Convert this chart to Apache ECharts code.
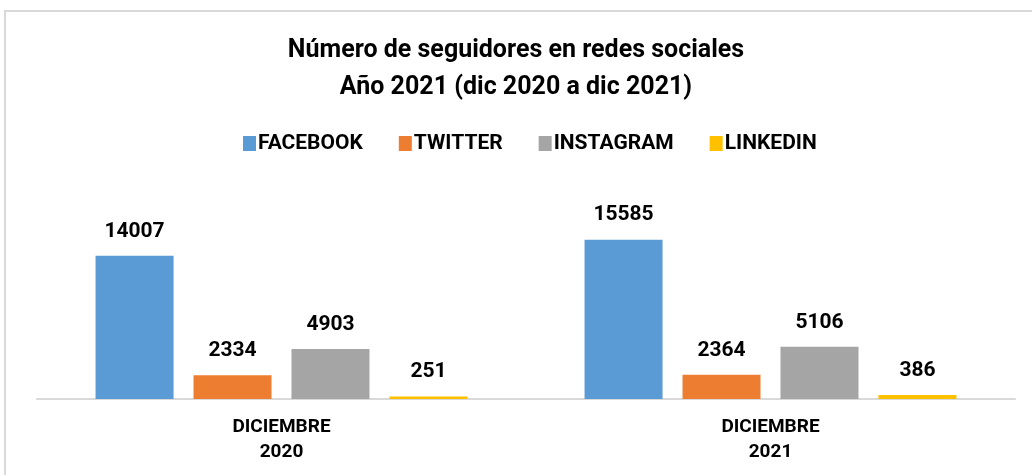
<!DOCTYPE html>
<html>
<head>
<meta charset="utf-8">
<script src="https://cdn.jsdelivr.net/npm/echarts@6/dist/echarts.min.js"></script>
<style>
  html, body { margin: 0; padding: 0; background: #fff; }
  #frame {
    position: absolute; left: 4px; top: 10px;
    width: 1100px; height: 600px;
    border: 2px solid #d9d9d9;
  }
  #chart { position: absolute; left: 0; top: 0; width: 1032px; height: 475px; }
</style>
</head>
<body>
<div id="frame"></div>
<div id="chart"></div>
<script>
// datos
const categories = ['DICIEMBRE 2020', 'DICIEMBRE 2021'];
const seriesNames = ['FACEBOOK', 'TWITTER', 'INSTAGRAM', 'LINKEDIN'];
const facebook = [14007, 15585];
const twitter = [2334, 2364];
const instagram = [4903, 5106];
const linkedin = [251, 386];
const colors = ['#5B9BD5', '#ED7D31', '#A5A5A5', '#FFC000'];

const font = 'Roboto';
const values = [facebook, twitter, instagram, linkedin];

let myChart = echarts.init(document.getElementById('chart'));
let option = {
  color: colors,
  animation: false,
  title: {
    text: 'Número de seguidores en redes sociales\nAño 2021 (dic 2020 a dic 2021)',
    left: 'center',
    top: 27,
    textStyle: {
      fontFamily: font,
      fontWeight: 'bold',
      fontSize: 25,
      lineHeight: 37,
      color: '#000'
    }
  },
  legend: {
    top: 128,
    left: 238,
    itemWidth: 13,
    itemHeight: 15,
    itemGap: 36,
    icon: 'rect',
    textStyle: {
      fontFamily: font,
      fontWeight: 'bold',
      fontSize: 21,
      color: '#000',
      padding: [0, 0, 0, -3]
    },
    data: seriesNames
  },
  grid: {
    left: 37,
    right: 17,
    top: 215,
    bottom: 76
  },
  xAxis: {
    type: 'category',
    data: categories,
    axisTick: { show: false },
    axisLine: {
      lineStyle: { color: '#d9d9d9', width: 2 }
    },
    axisLabel: {
      margin: 16,
      fontFamily: font,
      fontWeight: 'bold',
      fontSize: 19,
      lineHeight: 25,
      color: '#000',
      formatter: function (v) { return v.replace(' ', '\n'); }
    }
  },
  yAxis: {
    type: 'value',
    min: 0,
    max: 18000,
    show: false,
    splitLine: { show: false }
  },
  series: seriesNames.map(function (name, i) {
    return {
      name: name,
      type: 'bar',
      data: values[i],
      barWidth: 78,
      barGap: '25.6%',
      label: {
        show: true,
        position: 'top',
        distance: 14,
        fontFamily: font,
        fontWeight: 'bold',
        fontSize: 21,
        color: '#000'
      }
    };
  })
};
myChart.setOption(option);
window.addEventListener('resize', function () { myChart.resize() })
</script>
</body>
</html>
